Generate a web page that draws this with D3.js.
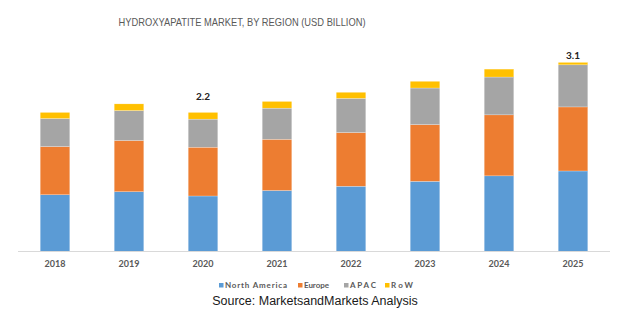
<!DOCTYPE html>
<html><head><meta charset="utf-8">
<script src="https://cdn.jsdelivr.net/npm/d3@7"></script>
<style>body{margin:0;background:#fff}svg{display:block}</style>
</head><body><svg id="c" width="624" height="326"></svg>
<script>
const years = ["2018","2019","2020","2021","2022","2023","2024","2025"];
const northAmerica = [0.93,0.98,0.91,1.00,1.07,1.15,1.24,1.32];
const europe       = [0.79,0.84,0.80,0.84,0.88,0.93,1.00,1.05];
const apac         = [0.46,0.49,0.46,0.51,0.56,0.60,0.62,0.69];
const row          = [0.10,0.11,0.11,0.11,0.10,0.11,0.13,0.04];
const seriesNames = ["North America","Europe","APAC","RoW"];
const totalLabels = {"2020":"2.2","2025":"3.1"};
const colors = ["#5B9BD5","#ED7D31","#A5A5A5","#FFC000"];

const svg = d3.select("#c");
const table = years.map((y,i)=>({year:y,"North America":northAmerica[i],"Europe":europe[i],"APAC":apac[i],"RoW":row[i]}));
const stack = d3.stack().keys(seriesNames)(table);

const x = d3.scaleBand().domain(years).range([18,610]).paddingInner(0.6).paddingOuter(0.3);
const y = d3.scaleLinear().domain([0,1]).range([251.5,251.5-61]);

svg.append("text").attr("x",242).attr("y",26).attr("text-anchor","middle")
  .attr("font-family","Liberation Sans, Arial, sans-serif").attr("font-size",10.5)
  .attr("fill","#595959").attr("textLength",247).attr("lengthAdjust","spacingAndGlyphs")
  .text("HYDROXYAPATITE MARKET, BY REGION (USD BILLION)");

svg.append("g").selectAll("g").data(stack).join("g").attr("fill",(d,i)=>colors[i])
  .selectAll("rect").data(d=>d).join("rect")
  .attr("x",d=>x(d.data.year)).attr("width",x.bandwidth())
  .attr("y",d=>y(d[1])).attr("height",d=>y(d[0])-y(d[1]))
  .attr("stroke","#fff").attr("stroke-width",0.4).attr("stroke-opacity",0.6);

svg.append("line").attr("x1",18).attr("x2",610).attr("y1",251.5).attr("y2",251.5)
  .attr("stroke","#D9D9D9").attr("stroke-width",1);

const xAxis = svg.append("g").attr("transform","translate(0,251.5)")
  .call(d3.axisBottom(x).tickSize(0).tickPadding(9));
xAxis.select(".domain").remove();
xAxis.selectAll("text").attr("font-family","Lato, Open Sans, sans-serif").attr("font-weight","bold")
  .attr("font-size",9).attr("fill","#595959");

// label gap above bar top (placed manually in the original)
const labelGap = {"2020":12.7,"2025":3.5};
const last = stack[stack.length-1];
svg.append("g").selectAll("text").data(last.filter(d=>totalLabels[d.data.year]))
  .join("text").attr("x",d=>x(d.data.year)+x.bandwidth()/2).attr("y",d=>y(d[1])-labelGap[d.data.year])
  .attr("text-anchor","middle").attr("font-family","Lato, Open Sans, sans-serif")
  .attr("font-weight","bold").attr("font-size",10).attr("fill","#222")
  .text(d=>totalLabels[d.data.year]);

const legendX = [219,298,344,385];
const legendW = [62,25,26,22];
const lg = svg.append("g");
seriesNames.forEach((s,i)=>{
  lg.append("rect").attr("x",legendX[i]).attr("y",283).attr("width",4.5).attr("height",4.5).attr("fill",colors[i]);
  lg.append("text").attr("x",legendX[i]+6).attr("y",288).attr("font-family","Lato, Open Sans, sans-serif")
    .attr("font-size",8).attr("font-weight","bold").attr("fill","#595959")
    .attr("textLength",legendW[i]).attr("lengthAdjust","spacing").text(s);
});

svg.append("text").attr("x",315).attr("y",304.5).attr("text-anchor","middle")
  .attr("font-family","Liberation Sans, Arial, sans-serif").attr("font-size",12.5).attr("fill","#1a1a1a")
  .text("Source: MarketsandMarkets Analysis");
</script></body></html>
